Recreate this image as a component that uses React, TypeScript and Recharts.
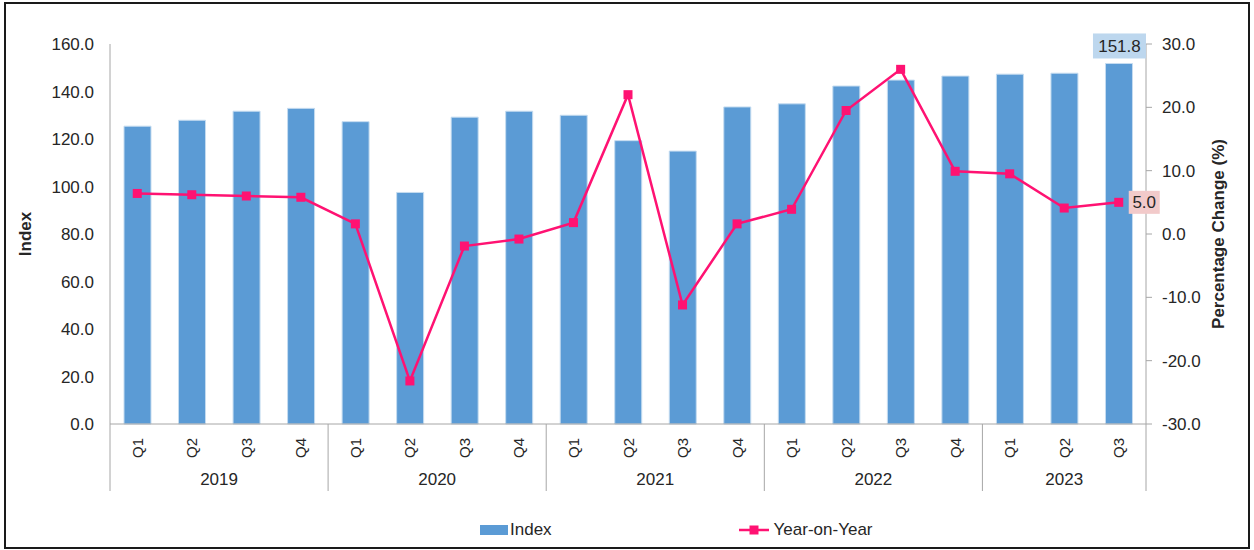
import React from 'react';
import { ComposedChart, Bar, Line, XAxis, YAxis, Legend, LabelList } from 'recharts';

const years = ['2019', '2020', '2021', '2022', '2023'];
const quartersPerYear = [4, 4, 4, 4, 3];
const quarterNames = ['Q1', 'Q2', 'Q3', 'Q4'];
const indexValues = [125.4, 127.9, 131.7, 132.9, 127.3, 97.5, 129.2, 131.7, 130.0, 119.3, 114.9, 133.5, 134.8, 142.3, 144.8, 146.5, 147.3, 147.7, 151.8];
const yoyValues = [6.4, 6.2, 6.0, 5.8, 1.6, -23.2, -1.9, -0.8, 1.8, 22.0, -11.2, 1.6, 3.9, 19.5, 26.0, 9.9, 9.5, 4.1, 5.0];
const leftTicks = [0, 20, 40, 60, 80, 100, 120, 140, 160];
const rightTicks = [-30, -20, -10, 0, 10, 20, 30];

type Row = { key: string; q: string; year: string; qi: number; n: number; index: number; yoy: number };
const data: Row[] = [];
{
  let k = 0;
  years.forEach((y, yi) => {
    for (let qi = 0; qi < quartersPerYear[yi]; qi++) {
      data.push({ key: y + quarterNames[qi], q: quarterNames[qi], year: y, qi, n: quartersPerYear[yi], index: indexValues[k], yoy: yoyValues[k] });
      k++;
    }
  });
}

const W = 1254;
const H = 550;
const FONT = '"Liberation Sans", Arial, sans-serif';
const AXIS = '#a6a6a6';
const TEXT = '#262626';
const BLUE = '#5B9BD5';
const PINK = '#FF1272';
const LEFT_W = 110;
const RIGHT_W = 108;
const HALF_FALLBACK = (W - LEFT_W - RIGHT_W) / data.length / 2;

const XTick = (props: any) => {
  const { x, y, payload } = props;
  const i = payload.index;
  const row = data[i];
  if (!row) return null;
  const half = payload.offset && payload.offset > 0 ? payload.offset : HALF_FALLBACK;
  const els: any[] = [];
  els.push(
    <text key="q" x={x} y={y + 24} transform={`rotate(-90, ${x}, ${y + 24})`} textAnchor="middle" dominantBaseline="central" fontSize={15} fill={TEXT} fontFamily={FONT}>
      {row.q}
    </text>
  );
  if (row.qi === 0) {
    els.push(<line key="s" x1={x - half} x2={x - half} y1={y} y2={y + 67} stroke={AXIS} strokeWidth={1} />);
    els.push(
      <text key="y" x={x - half + row.n * half} y={y + 61} textAnchor="middle" fontSize={17} fill={TEXT} fontFamily={FONT}>
        {row.year}
      </text>
    );
  }
  if (i === data.length - 1) {
    els.push(<line key="e" x1={x + half} x2={x + half} y1={y} y2={y + 67} stroke={AXIS} strokeWidth={1} />);
  }
  return <g>{els}</g>;
};

const Square = (props: any) => {
  const { cx, cy } = props;
  if (cx == null || cy == null) return null;
  return <rect x={cx - 4.5} y={cy - 4.5} width={9} height={9} fill={PINK} />;
};

const BarLabel = (props: any) => {
  const { x, y, width, index, value } = props;
  if (index !== data.length - 1) return null;
  const cx = x + width / 2;
  return (
    <g>
      <rect x={cx - 26} y={y - 30} width={53} height={25} fill="#BDD7EE" />
      <text x={cx + 0.5} y={y - 17} textAnchor="middle" dominantBaseline="central" fontSize={17} fill={TEXT} fontFamily={FONT}>
        {Number(value).toFixed(1)}
      </text>
    </g>
  );
};

const LineLabel = (props: any) => {
  const { x, y, index, value } = props;
  if (index !== data.length - 1) return null;
  return (
    <g>
      <rect x={x + 10} y={y - 11.5} width={31} height={23} fill="#F2CACA" />
      <text x={x + 25.5} y={y} textAnchor="middle" dominantBaseline="central" fontSize={17} fill={TEXT} fontFamily={FONT}>
        {Number(value).toFixed(1)}
      </text>
    </g>
  );
};

const LegendContent = () => (
  <div style={{ height: 30, display: 'flex', alignItems: 'center', fontFamily: FONT, fontSize: 17, color: TEXT }}>
    <div style={{ display: 'flex', alignItems: 'center' }}>
      <span style={{ display: 'inline-block', width: 28, height: 10, background: BLUE, marginRight: 2 }} />
      <span>Index</span>
    </div>
    <div style={{ display: 'flex', alignItems: 'center', marginLeft: 187 }}>
      <svg width={30} height={12} style={{ marginRight: 5 }}>
        <line x1={0} x2={30} y1={6} y2={6} stroke={PINK} strokeWidth={2.5} />
        <rect x={10.5} y={1.5} width={9} height={9} fill={PINK} />
      </svg>
      <span>Year-on-Year</span>
    </div>
  </div>
);

export default function App() {
  return (
    <div style={{ position: 'absolute', left: 0, top: 0, width: W, height: H, background: '#fff' }}>
      <div style={{ position: 'absolute', left: 4, top: 2, width: 1246, height: 547, border: '2px solid #1a1a1a', boxSizing: 'border-box' }} />
      <div style={{ position: 'absolute', left: 0, top: 0 }}>
        <ComposedChart width={W} height={H} data={data} margin={{ top: 44, right: 0, bottom: 5, left: 0 }} barCategoryGap="25%">
          <XAxis dataKey="key" xAxisId={0} interval={0} height={91} tickSize={0} tickMargin={0} tickLine={false} axisLine={{ stroke: AXIS }} tick={<XTick />} />
          <YAxis
            yAxisId="left"
            orientation="left"
            width={LEFT_W}
            domain={[0, 160]}
            ticks={leftTicks}
            tickFormatter={(v: number) => v.toFixed(1)}
            tickLine={false}
            tickSize={0}
            tickMargin={16}
            axisLine={{ stroke: AXIS }}
            tick={{ fontSize: 17, fill: TEXT, fontFamily: FONT }}
            label={{ value: 'Index', angle: -90, position: 'insideLeft', offset: 25, style: { textAnchor: 'middle', fontWeight: 'bold', fontSize: 17, fill: TEXT, fontFamily: FONT } }}
          />
          <YAxis
            yAxisId="right"
            orientation="right"
            width={RIGHT_W}
            domain={[-30, 30]}
            ticks={rightTicks}
            tickFormatter={(v: number) => v.toFixed(1)}
            tickSize={6}
            tickMargin={10}
            tickLine={{ stroke: AXIS }}
            axisLine={{ stroke: AXIS }}
            tick={{ fontSize: 17, fill: TEXT, fontFamily: FONT }}
            label={{ value: 'Percentage Change (%)', angle: -90, position: 'insideRight', offset: 36, style: { textAnchor: 'middle', fontWeight: 'bold', fontSize: 17, fill: TEXT, fontFamily: FONT } }}
          />
          <Legend verticalAlign="bottom" content={<LegendContent />} wrapperStyle={{ left: 480, width: 420, bottom: 5 }} />
          <Bar yAxisId="left" dataKey="index" name="Index" fill={BLUE} stroke="#C5DCF0" strokeWidth={1} barSize={27} isAnimationActive={false}>
            <LabelList dataKey="index" content={<BarLabel />} />
          </Bar>
          <Line yAxisId="right" dataKey="yoy" name="Year-on-Year" stroke={PINK} strokeWidth={2.5} dot={<Square />} activeDot={false} isAnimationActive={false}>
            <LabelList dataKey="yoy" content={<LineLabel />} />
          </Line>
        </ComposedChart>
      </div>
    </div>
  );
}
